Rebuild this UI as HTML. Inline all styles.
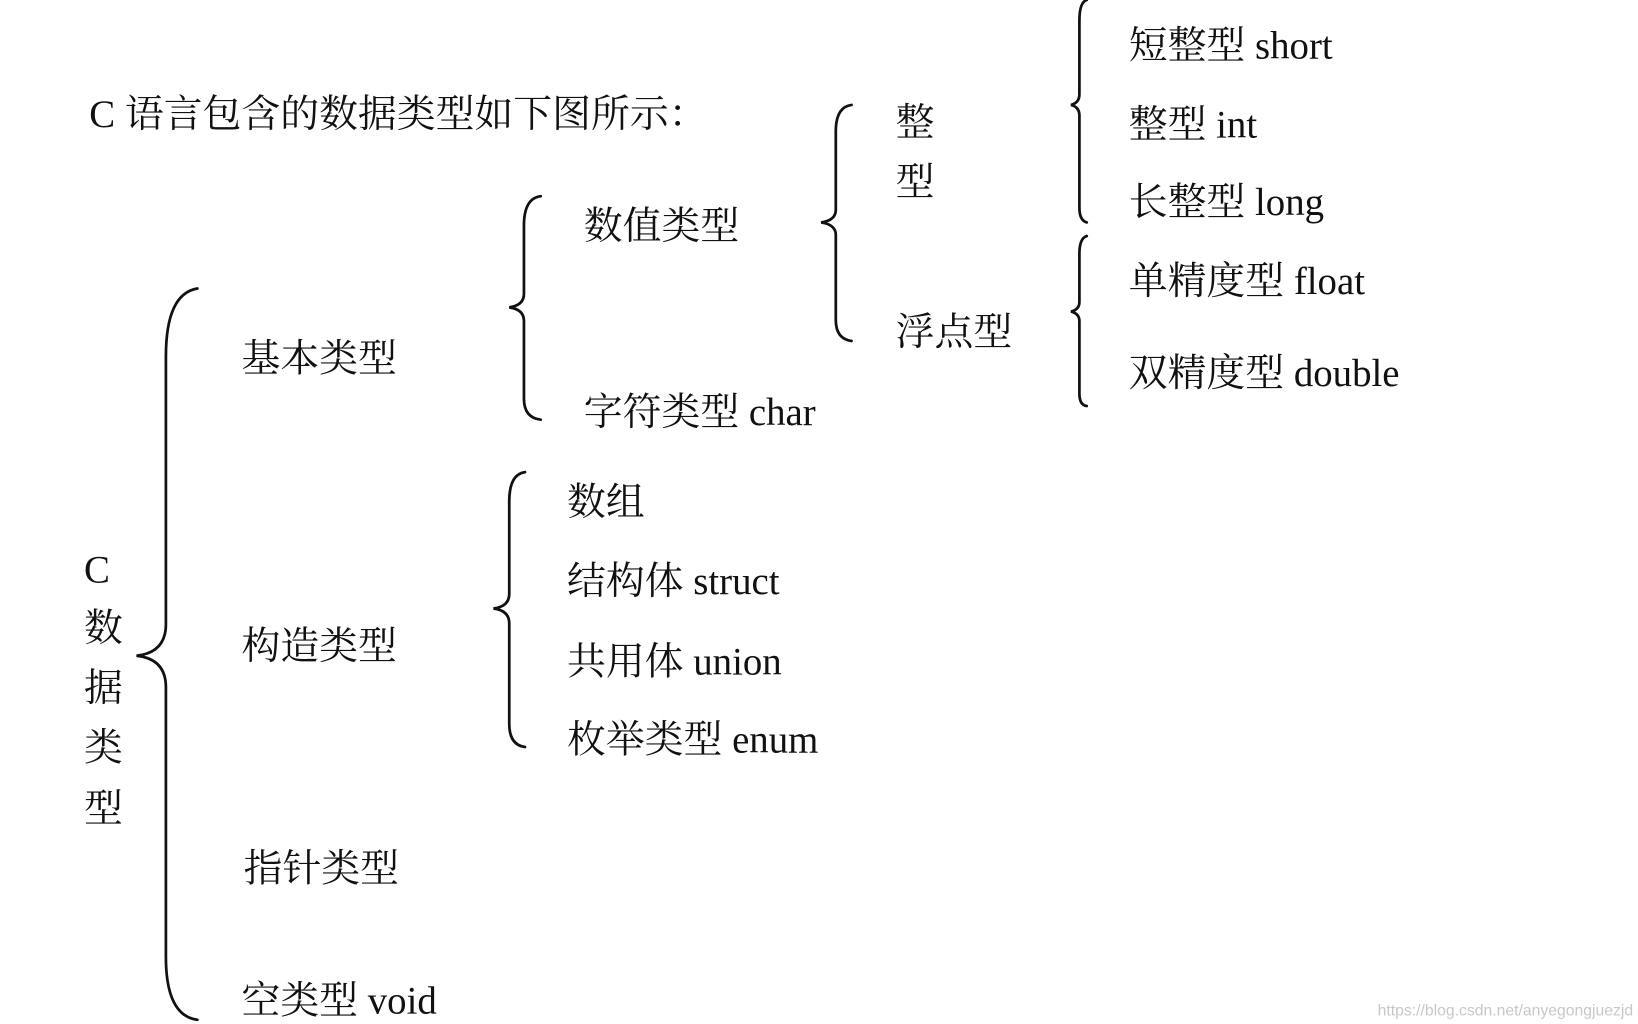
<!DOCTYPE html>
<html><head><meta charset="utf-8"><style>
html,body{margin:0;padding:0;background:#fff;width:1638px;height:1024px;overflow:hidden}
svg{display:block}
text{font-family:"Liberation Serif","Noto Serif CJK SC","Noto Sans CJK SC",serif;font-size:37px;fill:#111}
</style></head><body>
<svg width="1638" height="1024" viewBox="0 0 1560 976" preserveAspectRatio="none" xmlns="http://www.w3.org/2000/svg">
<g fill="none" stroke="#111" stroke-width="2.6" stroke-linecap="round">
<path d="M188 275 Q158 280 158 340 L158 595 Q158 622 130 625 Q158 628 158 655 L158 912 Q158 968 188 972"/>
<path d="M515 187 Q499 189 499 215 L499 280 Q499 291 485 293 Q499 295 499 306 L499 380 Q499 398 515 400"/>
<path d="M500 450 Q485 452 485 478 L485 566 Q485 578 470 580 Q485 582 485 594 L485 690 Q485 710 500 712"/>
<path d="M811 100 Q796 102 796 125 L796 200 Q796 210 782 212 Q796 214 796 224 L796 305 Q796 323 811 325"/>
<path d="M1035 0 Q1028 2 1028 20 L1028 90 Q1028 98 1020 100 Q1028 102 1028 110 L1028 198 Q1028 210 1035 212"/>
<path d="M1035 225 Q1028 227 1028 242 L1028 288 Q1028 295 1020 297 Q1028 299 1028 306 L1028 375 Q1028 386 1035 387"/>
</g>
<text x="85" y="121">C 语言包含的数据类型如下图所示：</text>
<text x="80" y="555">C</text>
<text x="80" y="611">数</text>
<text x="80" y="668">据</text>
<text x="80" y="725">类</text>
<text x="80" y="783">型</text>
<text x="230" y="354">基本类型</text>
<text x="230" y="628">构造类型</text>
<text x="232" y="840">指针类型</text>
<text x="230" y="966">空类型 void</text>
<text x="556" y="228">数值类型</text>
<text x="556" y="405">字符类型 char</text>
<text x="540" y="491">数组</text>
<text x="540" y="566">结构体 struct</text>
<text x="540" y="643">共用体 union</text>
<text x="540" y="717">枚举类型 enum</text>
<text x="853" y="129">整</text>
<text x="853" y="186">型</text>
<text x="853" y="329">浮点型</text>
<text x="1075" y="56">短整型 short</text>
<text x="1075" y="131">整型 int</text>
<text x="1075" y="205">长整型 long</text>
<text x="1075" y="280">单精度型 float</text>
<text x="1075" y="368">双精度型 double</text>
<text x="1312" y="968" style="font-family:'Liberation Sans',sans-serif;font-size:15px;fill:#c8c8c8">https://blog.csdn.net/anyegongjuezjd</text>
</svg>
</body></html>
